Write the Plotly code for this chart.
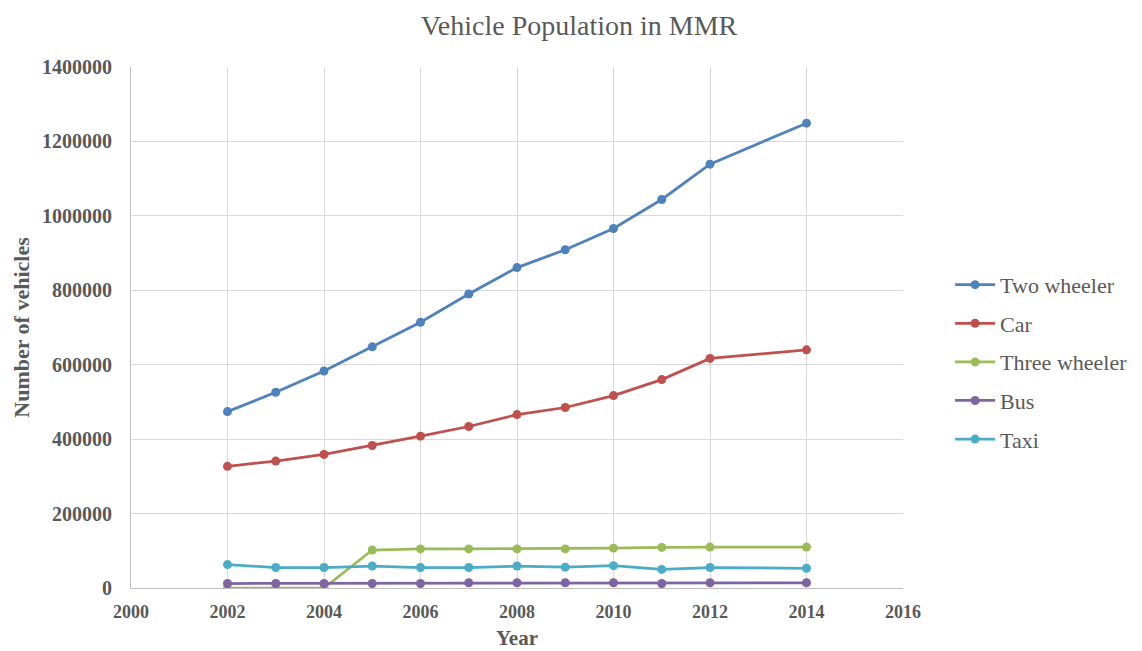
import plotly.graph_objects as go

years = [2002, 2003, 2004, 2005, 2006, 2007, 2008, 2009, 2010, 2011, 2012, 2014]
two_wheeler = [474000, 526000, 583000, 648000, 714000, 790000, 861000, 909000, 966000, 1044000, 1139000, 1249000]
car = [327000, 341000, 359000, 383000, 408000, 434000, 466000, 485000, 517000, 560000, 617000, 640000]
three_wheeler = [0, 0, 0, 102000, 105000, 105000, 105000, 105000, 107000, 109000, 110000, 110000]
bus = [12000, 12000, 12000, 12000, 12000, 14000, 14000, 14000, 14000, 12000, 14000, 14000]
taxi = [63000, 55000, 55000, 59000, 55000, 55000, 59000, 56000, 60000, 50000, 55000, 53000]

series = [
    ("Two wheeler", two_wheeler, "#4F81BD"),
    ("Car", car, "#C0504D"),
    ("Three wheeler", three_wheeler, "#9BBB59"),
    ("Bus", bus, "#8064A2"),
    ("Taxi", taxi, "#4BACC6"),
]

font_family = "Liberation Serif"
grey = "#595959"

fig = go.Figure()
for name, vals, color in series:
    fig.add_trace(go.Scatter(
        x=years, y=vals, name=name, mode="lines+markers",
        legendgroup=name,
        line=dict(color=color, width=2.75),
        marker=dict(color=color, size=9),
    ))

fig.update_layout(
    width=1142, height=651,
    paper_bgcolor="white", plot_bgcolor="white",
    margin=dict(l=123, r=247, t=59, b=71),
    title=dict(text="Vehicle Population in MMR", x=0.5, xref="container", xanchor="center",
               y=0.974, yanchor="middle",
               font=dict(family=font_family, size=28, color=grey)),
    legend=dict(x=1.061, y=0.434, yanchor="middle", xanchor="left",
                font=dict(family=font_family, size=22, color=grey),
                tracegroupgap=7, itemwidth=40),
    font=dict(family=font_family, color=grey),
)
fig.update_xaxes(
    range=[2000, 2016], tick0=2000, dtick=2, automargin=False,
    showgrid=True, gridcolor="#D9D9D9", gridwidth=1,
    showline=True, linecolor="#BFBFBF", linewidth=1,
    zeroline=False, ticks="", ticklabelstandoff=7,
    tickfont=dict(family=font_family, size=18, color=grey, weight="bold"),
    title=dict(text="Year", font=dict(family=font_family, size=21, color=grey, weight="bold"), standoff=9),
)
fig.update_yaxes(
    range=[0, 1400000], tick0=0, dtick=200000, tickformat="d", automargin=False,
    showgrid=True, gridcolor="#D9D9D9", gridwidth=1,
    showline=True, linecolor="#BFBFBF", linewidth=1,
    zeroline=False, ticks="", ticklabelstandoff=14,
    tickfont=dict(family=font_family, size=20, color=grey, weight="bold"),
    title=dict(text="Number of vehicles", font=dict(family=font_family, size=22, color=grey, weight="bold"), standoff=6),
)

fig.write_html("out.html")
